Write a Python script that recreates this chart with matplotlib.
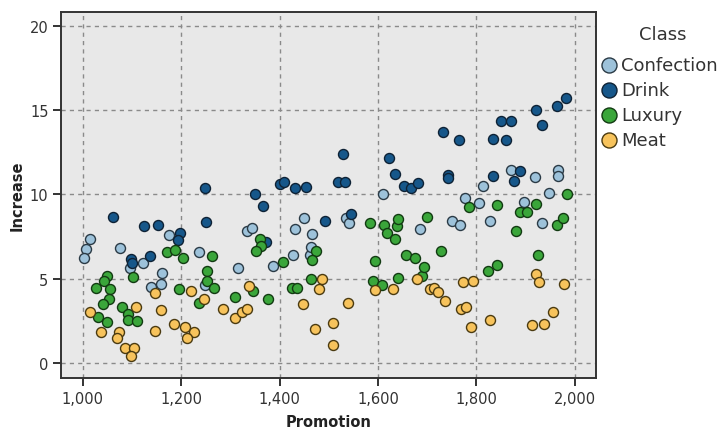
import matplotlib
matplotlib.use("Agg")
import matplotlib.pyplot as plt
from matplotlib.ticker import FuncFormatter, MultipleLocator

classes = ["Confection", "Drink", "Luxury", "Meat"]
colors = ["#9dc2da", "#16578a", "#3aa63a", "#f7c35c"]
edges = ["#2a3a45", "#0e2235", "#123a12", "#4a3a10"]

confection_x = [1014, 1007, 1003, 1075, 1097, 1122, 1161, 1159, 1138, 1176, 1237, 1249, 1315, 1333, 1345,
                1386, 1427, 1431, 1450, 1465, 1461, 1463, 1535, 1542, 1611, 1685, 1751, 1766, 1776, 1806,
                1813, 1827, 1871, 1896, 1919, 1934, 1947, 1966, 1966]
confection_y = [7.35, 6.75, 6.2, 6.84, 5.65, 5.95, 5.33, 4.7, 4.49, 7.62, 6.58, 4.62, 5.64, 7.84, 7.98,
                5.75, 6.38, 7.96, 8.61, 7.65, 6.38, 6.86, 8.58, 8.3, 10.02, 7.92, 8.44, 8.18, 9.78, 9.48,
                10.47, 8.4, 11.43, 9.54, 11.0, 8.3, 10.09, 11.46, 11.1]

drink_x = [1061, 1124, 1154, 1098, 1100, 1137, 1197, 1194, 1248, 1250, 1350, 1367, 1373, 1401, 1410,
           1431, 1454, 1492, 1519, 1533, 1528, 1546, 1622, 1634, 1653, 1668, 1681, 1733, 1765, 1743,
           1743, 1833, 1834, 1861, 1849, 1871, 1876, 1889, 1921, 1934, 1964, 1982]
drink_y = [8.65, 8.12, 8.17, 6.18, 5.92, 6.36, 7.73, 7.3, 10.39, 8.38, 10.04, 9.33, 7.2, 10.6, 10.75,
           10.35, 10.43, 8.44, 10.71, 10.71, 12.41, 8.86, 12.15, 11.2, 10.47, 10.35, 10.67, 13.69, 13.22, 11.14,
           10.98, 11.08, 13.28, 13.22, 14.36, 14.36, 10.81, 11.4, 15.0, 14.11, 15.25, 15.69]

luxury_x = [1049, 1044, 1027, 1056, 1054, 1041, 1080, 1032, 1049, 1093, 1092, 1110, 1103, 1171, 1188,
            1204, 1195, 1236, 1253, 1253, 1267, 1262, 1310, 1346, 1360, 1363, 1353, 1377, 1407, 1425,
            1435, 1463, 1474, 1465, 1584, 1594, 1589, 1608, 1613, 1618, 1635, 1639, 1640, 1641, 1656,
            1676, 1689, 1693, 1699, 1729, 1785, 1824, 1842, 1841, 1880, 1888, 1903, 1921, 1926, 1964,
            1975, 1984]
luxury_y = [5.14, 4.88, 4.43, 4.37, 3.79, 3.5, 3.3, 2.71, 2.41, 2.9, 2.57, 2.51, 5.08, 6.56, 6.72,
            6.22, 4.39, 3.55, 5.44, 4.88, 4.43, 6.32, 3.89, 4.29, 7.37, 6.92, 6.63, 3.79, 5.97, 4.43,
            4.43, 4.98, 6.66, 6.11, 8.3, 6.06, 4.88, 4.62, 8.16, 7.73, 7.33, 8.14, 8.54, 5.02, 6.38,
            6.24, 5.18, 5.67, 8.67, 6.66, 9.23, 5.47, 5.81, 9.37, 7.84, 8.93, 8.93, 9.4, 6.4, 8.18,
            8.58, 10.0]

meat_x = [1014, 1109, 1159, 1038, 1073, 1069, 1086, 1105, 1098, 1148, 1147, 1186, 1207, 1226, 1211,
          1221, 1246, 1286, 1309, 1323, 1333, 1338, 1448, 1481, 1486, 1540, 1508, 1472, 1509, 1594,
          1631, 1679, 1705, 1714, 1722, 1736, 1768, 1779, 1788, 1772, 1793, 1827, 1912, 1938, 1955,
          1920, 1928, 1978]
meat_y = [3.0, 3.3, 3.16, 1.86, 1.82, 1.46, 0.87, 0.87, 0.43, 1.91, 4.17, 2.31, 2.11, 1.82, 1.49,
          4.26, 3.81, 3.18, 2.65, 3.02, 3.18, 4.55, 3.5, 4.39, 4.98, 3.56, 2.39, 2.0, 1.05, 4.32,
          4.39, 5.0, 4.39, 4.43, 4.19, 3.69, 3.18, 3.35, 2.11, 4.81, 4.85, 2.57, 2.25, 2.31, 3.0,
          5.28, 4.83, 4.71]

series = [(confection_x, confection_y), (drink_x, drink_y), (luxury_x, luxury_y), (meat_x, meat_y)]

fig = plt.figure(figsize=(7.26, 4.31), dpi=100)
ax = fig.add_axes([0.084, 0.1206, 0.737, 0.8499])
ax.set_facecolor("#e8e8e8")

for name, (xs, ys), c, e in zip(classes, series, colors, edges):
    ax.scatter(xs, ys, s=52, c=c, edgecolors=e, linewidths=1.0, label=name, zorder=3)

ax.set_xlim(956, 2043)
ax.set_ylim(-0.89, 20.83)
ax.xaxis.set_major_locator(MultipleLocator(200))
ax.yaxis.set_major_locator(MultipleLocator(5))
ax.xaxis.set_major_formatter(FuncFormatter(lambda v, p: f"{int(v):,}"))
ax.grid(True, color="#8a8a8a", linestyle=(0, (3, 3)), linewidth=1.0, zorder=1)
ax.set_axisbelow(True)
for s in ax.spines.values():
    s.set_color("#333333")
    s.set_linewidth(1.4)
ax.tick_params(direction="out", length=6, width=1.4, color="#333333",
               labelsize=10.5, labelcolor="#333333", pad=3)

ax.set_xlabel("Promotion", fontsize=10.5, fontweight="bold", color="#222222", labelpad=6)
ax.set_ylabel("Increase", fontsize=10.5, fontweight="bold", color="#222222", labelpad=4)

leg = fig.legend(loc="upper left", bbox_to_anchor=(600 / 726, 1 - 57 / 431), frameon=False,
                 fontsize=13, markerscale=1.5, handletextpad=0.15,
                 labelspacing=0.39, borderaxespad=0.0, borderpad=0.0, handlelength=1.0)
for t in leg.get_texts():
    t.set_color("#333333")
fig.text(663 / 726, 1 - 35 / 431, "Class", fontsize=13, color="#333333", ha="center", va="center")

fig.savefig("out.png", dpi=100)
